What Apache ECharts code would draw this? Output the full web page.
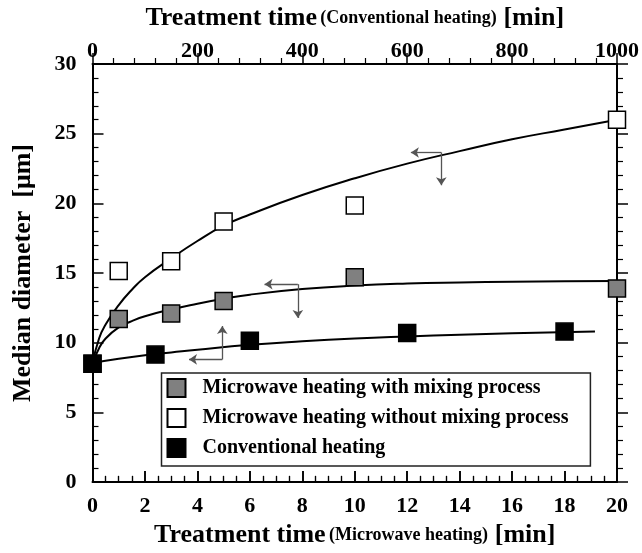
<!DOCTYPE html>
<html><head><meta charset="utf-8">
<script src="https://cdn.jsdelivr.net/npm/echarts@6/dist/echarts.min.js"></script>
<style>html,body{margin:0;padding:0;background:#fff}#c{width:642px;height:553px}</style>
</head><body><div id="c"></div>
<script>
var xTicksBottom = [0, 20, 2];
var xMinorStep = 0.5;
var xTicksTop = [0, 1000, 200];
var yTicks = [0, 30, 5];

var mixX = [0, 1, 3, 5, 10, 20];
var mixY = [8.5, 11.7, 12.1, 13.0, 14.7, 13.9];
var noMixX = [1, 3, 5, 10, 20];
var noMixY = [15.15, 15.85, 18.7, 19.85, 26.0];
var convX = [0, 120, 300, 600, 900];
var convY = [8.5, 9.15, 10.15, 10.7, 10.8];

var noMixCurveX = [0, 0.25, 0.5, 1, 1.5, 2, 3, 4, 5, 6, 8, 10, 12, 14, 16, 18, 20];
var noMixCurveY = [8.5, 10.3, 11.3, 12.7, 13.8, 14.7, 16.05, 17.3, 18.4, 19.2, 20.6, 21.8, 22.85, 23.75, 24.6, 25.3, 26.0];
var mixCurveX = [0, 0.25, 0.5, 1, 1.5, 2, 3, 4, 5, 6, 8, 10, 12, 14, 16, 18, 20];
var mixCurveY = [8.5, 9.6, 10.3, 11.1, 11.55, 11.9, 12.4, 12.8, 13.15, 13.45, 13.85, 14.1, 14.25, 14.33, 14.38, 14.41, 14.43];
var convCurveX = [0, 50, 100, 150, 200, 300, 400, 500, 600, 700, 800, 958];
var convCurveY = [8.55, 8.85, 9.1, 9.3, 9.5, 9.85, 10.1, 10.3, 10.45, 10.58, 10.68, 10.8];

var arrowSegs = [
  [13.3, 23.65, 12.14, 23.65], [13.3, 23.65, 13.3, 21.3],
  [7.83, 14.2, 6.56, 14.2], [7.83, 14.2, 7.83, 11.78],
  [4.95, 8.8, 4.95, 11.2], [4.95, 8.8, 3.68, 8.8]
];

var names = ['Microwave heating with mixing process', 'Microwave heating without mixing process', 'Conventional heating'];

function zip(a, b) { return a.map(function (v, i) { return [v, b[i]]; }); }

// bottom-axis inward ticks built from the tick settings
var bottomMajor = [], bottomMinor = [];
(function () {
  var n = Math.round((xTicksBottom[1] - xTicksBottom[0]) / xMinorStep);
  for (var i = 1; i < n; i++) {
    var v = xTicksBottom[0] + i * xMinorStep;
    var major = Math.abs(v / xTicksBottom[2] - Math.round(v / xTicksBottom[2])) < 1e-9;
    if (major) bottomMajor.push([{ coord: [v, 0] }, { coord: [v, 0.8] }]);
    else bottomMinor.push([{ coord: [v, 0] }, { coord: [v, 0.45] }]);
  }
})();

var FONT = '"Liberation Serif", "Times New Roman", serif';
function axisLine() { return { show: true, onZero: false, lineStyle: { color: '#000', width: 2 } }; }
function tick(ins, len) { return { show: true, inside: ins, length: len, lineStyle: { color: '#000', width: 1.5 } }; }
function minor(n, len) { return { show: true, splitNumber: n, length: len, lineStyle: { color: '#000', width: 1.2 } }; }
function lbl(m) { return { margin: m, fontFamily: FONT, fontWeight: 'bold', fontSize: 22, color: '#000', formatter: function (v) { return String(v); } }; }
var titleRich = { a: { fontFamily: FONT, fontWeight: 'bold', fontSize: 26, color: '#000' }, b: { fontFamily: FONT, fontWeight: 'bold', fontSize: 18, color: '#000' } };

function tickSeries(name, data, width) {
  return {
    name: name, type: 'line', data: [], silent: true, z: 6,
    markLine: {
      silent: true, symbol: ['none', 'none'], label: { show: false }, animation: false, precision: 4,
      lineStyle: { color: '#000', width: width, type: 'solid', opacity: 1 },
      emphasis: { disabled: true },
      data: data
    }
  };
}

var chart = echarts.init(document.getElementById('c'));
chart.setOption({
  animation: false,
  backgroundColor: '#fff',
  grid: { left: 92.5, right: 23.5, top: 62.5, bottom: 69.5, containLabel: false },
  legend: {
    data: names.map(function (n) { return { name: n, icon: 'rect' }; }),
    orient: 'vertical', left: 161.5, top: 373,
    itemWidth: 18, itemHeight: 18, itemGap: 10,
    padding: [5, 22, 8, 5],
    borderColor: '#222', borderWidth: 1.5, backgroundColor: '#fff',
    formatter: function (n) { return '{t|' + n + '}'; },
    textStyle: { rich: { t: { fontFamily: FONT, fontWeight: 'bold', fontSize: 20, color: '#000', padding: [0, 0, 0, 12] } } }
  },
  xAxis: [{
    type: 'value', position: 'bottom', min: xTicksBottom[0], max: xTicksBottom[1], interval: xTicksBottom[2],
    axisLine: axisLine(), axisTick: tick(false, -11), minorTick: minor(4, -6), splitLine: { show: false },
    axisLabel: lbl(13),
    name: '{a|Treatment time} {b|(Microwave heating)}  {a|[min]}', nameLocation: 'middle', nameGap: 38,
    nameTextStyle: { rich: titleRich }
  }, {
    type: 'value', position: 'top', min: xTicksTop[0], max: xTicksTop[1], interval: xTicksTop[2],
    axisLine: axisLine(), axisTick: tick(false, 11), minorTick: minor(5, 6), splitLine: { show: false },
    axisLabel: lbl(2),
    name: '{a|Treatment time} {b|(Conventional heating)}  {a|[min]}', nameLocation: 'middle', nameGap: 33,
    nameTextStyle: { rich: titleRich }
  }],
  yAxis: [{
    type: 'value', position: 'left', min: yTicks[0], max: yTicks[1], interval: yTicks[2],
    axisLine: axisLine(), axisTick: tick(false, -11), minorTick: minor(5, -6), splitLine: { show: false },
    axisLabel: lbl(16),
    name: 'Median diameter  [μm]', nameLocation: 'middle', nameGap: 56,
    nameTextStyle: { fontFamily: FONT, fontWeight: 'bold', fontSize: 26, color: '#000' }
  }, {
    type: 'value', position: 'right', min: yTicks[0], max: yTicks[1], interval: yTicks[2],
    axisLine: axisLine(), axisTick: tick(true, -11), minorTick: minor(5, -6), splitLine: { show: false },
    axisLabel: { show: false }
  }],
  series: [
    { name: 'curveNoMix', type: 'line', smooth: 0.5, showSymbol: false, symbol: 'none', data: zip(noMixCurveX, noMixCurveY), lineStyle: { color: '#000', width: 2 }, z: 2, silent: true },
    { name: 'curveMix', type: 'line', smooth: 0.5, showSymbol: false, symbol: 'none', data: zip(mixCurveX, mixCurveY), lineStyle: { color: '#000', width: 2 }, z: 2, silent: true },
    { name: 'curveConv', type: 'line', smooth: 0.5, showSymbol: false, symbol: 'none', xAxisIndex: 1, data: zip(convCurveX, convCurveY), lineStyle: { color: '#000', width: 2 }, z: 2, silent: true },
    {
      name: 'arrows', type: 'line', data: [], silent: true,
      markLine: {
        silent: true, symbol: ['none', 'arrow'], symbolSize: 8, label: { show: false },
        lineStyle: { color: '#555', width: 1.3, type: 'solid' },
        emphasis: { disabled: true },
        data: arrowSegs.map(function (s) { return [{ coord: [s[0], s[1]] }, { coord: [s[2], s[3]] }]; })
      }
    },
    tickSeries('bottomMajorTicks', bottomMajor, 1.6),
    tickSeries('bottomMinorTicks', bottomMinor, 1.2),
    { name: names[0], type: 'scatter', symbol: 'rect', symbolSize: 17, data: zip(mixX, mixY), itemStyle: { color: '#808080', borderColor: '#000', borderWidth: 1.5, opacity: 1 }, z: 5 },
    { name: names[1], type: 'scatter', symbol: 'rect', symbolSize: 17, data: zip(noMixX, noMixY), itemStyle: { color: '#fff', borderColor: '#000', borderWidth: 1.5, opacity: 1 }, z: 5 },
    { name: names[2], type: 'scatter', symbol: 'rect', symbolSize: 17, xAxisIndex: 1, data: zip(convX, convY), itemStyle: { color: '#000', borderColor: '#000', borderWidth: 1.5, opacity: 1 }, z: 5 }
  ]
});
</script>
</body></html>
